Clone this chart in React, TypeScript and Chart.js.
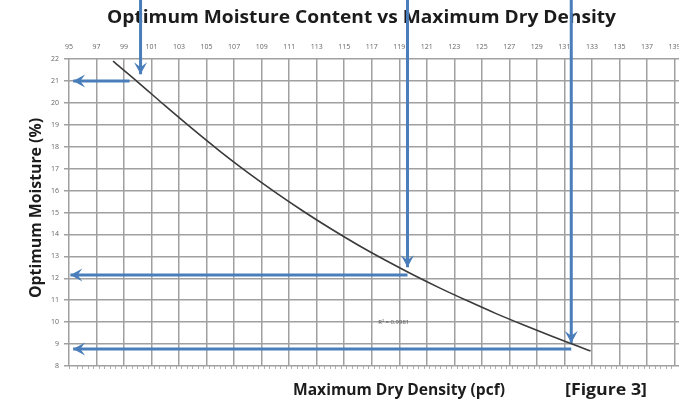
import React, { useEffect, useRef } from "react";
import { Chart, registerables } from "chart.js";

Chart.register(...registerables);

// ---- data ----
const titleText = "Optimum Moisture Content vs Maximum Dry Density";
const xTitleText = "Maximum Dry Density (pcf)";
const yTitleText = "Optimum Moisture (%)";
const figureText = "[Figure 3]";
const r2Text = "R² = 0.9981";

const densityTicks = [95, 97, 99, 101, 103, 105, 107, 109, 111, 113, 115, 117, 119, 121, 123, 125, 127, 129, 131, 133, 135, 137, 139];
const moistureMin = 8;
const moistureMax = 22;
const densityMin = 95;
const densityMax = 139.33;

// trend curve
const curveDensity = [98.2, 100, 102, 104, 106, 108, 110, 112, 114, 116, 118, 120, 122, 124, 126, 128, 130, 132, 132.9];
const curveMoisture = [21.9, 20.95, 19.86, 18.8, 17.78, 16.82, 15.92, 15.07, 14.27, 13.52, 12.82, 12.16, 11.54, 10.96, 10.4, 9.88, 9.38, 8.9, 8.68];

// guide arrows (data units)
const arrowDownX = [100.2, 119.6, 131.5];
const arrowDownTopY = [24.8, 24.8, 24.8];
const arrowDownTipY = [21.3, 12.5, 9.05];
const arrowLeftY = [21.0, 12.15, 8.78];
const arrowLeftStartX = [99.4, 119.6, 131.5];
const arrowLeftTipX = [95.3, 95.1, 95.3];

// R² label anchor (data units)
const r2Density = 118.6;
const r2Moisture = 10.0;

const ARROW_COLOR = "#4a7ebb";
const GRID_COLOR = "#a0a0a0";

function fitText(ctx: CanvasRenderingContext2D, text: string, x: number, y: number, size: number, width: number, rotate: boolean, color: string) {
  ctx.save();
  ctx.translate(x, y);
  if (rotate) ctx.rotate(-Math.PI / 2);
  ctx.font = `bold ${size}px "Open Sans", "DejaVu Sans", sans-serif`;
  const w = ctx.measureText(text).width;
  ctx.scale(width / w, 1);
  ctx.fillStyle = color;
  ctx.textAlign = "center";
  ctx.textBaseline = "alphabetic";
  ctx.fillText(text, 0, 0);
  ctx.restore();
}

const textPlugin = {
  id: "texts",
  beforeDatasetsDraw(chart: any) {
    const ctx = chart.ctx as CanvasRenderingContext2D;
    fitText(ctx, titleText, 361.5, 23, 18.5, 509, false, "#1c1c1c");
  },
  afterDatasetsDraw(chart: any) {
    const ctx = chart.ctx as CanvasRenderingContext2D;
    chart.data.datasets.forEach((ds: any, i: number) => {
      if (!ds.arrow) return;
      const pts = chart.getDatasetMeta(i).data;
      const a = pts[pts.length - 2];
      const b = pts[pts.length - 1];
      const ang = Math.atan2(b.y - a.y, b.x - a.x);
      const L = 12;
      const W = 6.5;
      ctx.save();
      ctx.translate(b.x, b.y);
      ctx.rotate(ang);
      ctx.beginPath();
      ctx.moveTo(0, 0);
      ctx.lineTo(-L, -W);
      ctx.lineTo(-L * 0.6, 0);
      ctx.lineTo(-L, W);
      ctx.closePath();
      ctx.fillStyle = ARROW_COLOR;
      ctx.fill();
      ctx.restore();
    });
    const xs = chart.scales.x;
    const ys = chart.scales.y;
    ctx.save();
    ctx.font = `6px "Open Sans", sans-serif`;
    ctx.fillStyle = "#555";
    ctx.textAlign = "center";
    ctx.textBaseline = "middle";
    ctx.fillText(r2Text, xs.getPixelForValue(r2Density), ys.getPixelForValue(r2Moisture));
    ctx.restore();
  },
  afterDraw(chart: any) {
    const ctx = chart.ctx as CanvasRenderingContext2D;
    fitText(ctx, yTitleText, 40.5, 208, 15.5, 180, true, "#1c1c1c");
    fitText(ctx, xTitleText, 399, 395, 15.5, 212, false, "#1c1c1c");
    fitText(ctx, figureText, 606, 395, 15.5, 82, false, "#1c1c1c");
  },
};

function buildDatasets() {
  const ds: any[] = [
    {
      label: "curve",
      data: curveDensity.map((x, i) => ({ x, y: curveMoisture[i] })),
      borderColor: "#3a3a3a",
      borderWidth: 1.6,
      pointRadius: 0,
      showLine: true,
      cubicInterpolationMode: "monotone",
      clip: false,
      order: 1,
    },
  ];
  arrowDownX.forEach((x, i) => {
    ds.push({
      label: `down${i}`,
      arrow: true,
      data: [
        { x, y: arrowDownTopY[i] },
        { x, y: arrowDownTipY[i] },
      ],
      borderColor: ARROW_COLOR,
      borderWidth: 3,
      pointRadius: 0,
      showLine: true,
      clip: false,
      order: 0,
    });
    ds.push({
      label: `left${i}`,
      arrow: true,
      data: [
        { x: arrowLeftStartX[i], y: arrowLeftY[i] },
        { x: arrowLeftTipX[i], y: arrowLeftY[i] },
      ],
      borderColor: ARROW_COLOR,
      borderWidth: 3,
      pointRadius: 0,
      showLine: true,
      clip: false,
      order: 0,
    });
  });
  return ds;
}

export default function App() {
  const ref = useRef<HTMLCanvasElement | null>(null);
  useEffect(() => {
    if (!ref.current) return;
    const chart = new Chart(ref.current, {
      type: "scatter",
      data: { datasets: buildDatasets() },
      options: {
        responsive: false,
        animation: false,
        devicePixelRatio: 1,
        layout: { padding: 0 },
        plugins: {
          legend: { display: false },
          title: { display: false },
          tooltip: { enabled: false },
        },
        scales: {
          x: {
            type: "linear",
            position: "top",
            min: densityMin,
            max: densityMax,
            afterBuildTicks: (s: any) => {
              s.ticks = densityTicks.map((v) => ({ value: v }));
            },
            afterFit: (s: any) => {
              s.height = 59;
              s.paddingLeft = 0;
              s.paddingRight = 0;
            },
            ticks: {
              autoSkip: false,
              maxRotation: 0,
              minRotation: 0,
              padding: 8,
              color: "#666",
              font: { size: 7, family: "Open Sans" },
            },
            grid: { color: GRID_COLOR, lineWidth: 1.5, drawTicks: false },
            border: { display: false },
          },
          x2: {
            type: "linear",
            position: "bottom",
            min: densityMin,
            max: densityMax,
            ticks: { display: false, stepSize: 0.4 },
            afterFit: (s: any) => {
              s.height = 37;
              s.paddingLeft = 0;
              s.paddingRight = 0;
            },
            grid: { drawOnChartArea: false, drawTicks: true, tickLength: 3, color: "#b0b0b0", lineWidth: 1 },
            border: { display: false },
          },
          y: {
            type: "linear",
            position: "left",
            min: moistureMin,
            max: moistureMax,
            ticks: {
              stepSize: 1,
              padding: 5,
              color: "#666",
              font: { size: 7, family: "Open Sans" },
            },
            afterFit: (s: any) => {
              s.width = 69;
              s.paddingTop = 0;
              s.paddingBottom = 0;
            },
            grid: { color: GRID_COLOR, lineWidth: 1.5, tickLength: 5 },
            border: { display: false },
          },
        },
      } as any,
      plugins: [textPlugin],
    });
    return () => chart.destroy();
  }, []);
  return (
    <div style={{ position: "absolute", left: 0, top: 0, width: 679, height: 403, background: "#fff" }}>
      <canvas ref={ref} width={679} height={403} />
    </div>
  );
}
